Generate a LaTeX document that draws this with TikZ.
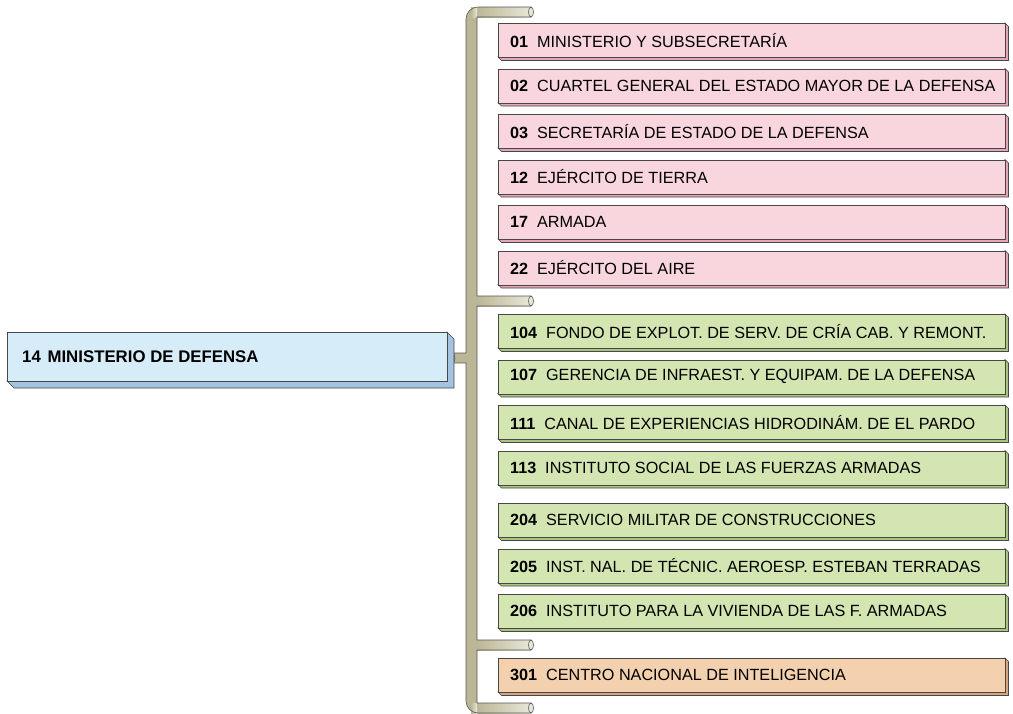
\documentclass[tikz,border=0pt]{standalone}
\usepackage{fontspec}
\setmainfont{Liberation Sans}
\begin{document}
\begin{tikzpicture}[x=1pt,y=-1pt,
  edge/.style={draw=black!72,line width=0.6pt},
  boxst/.style={edge,inner sep=0pt,rectangle},
  txt/.style={anchor=west,inner sep=0pt,font=\fontsize{16.2}{19}\selectfont},
  maintxt/.style={anchor=west,inner sep=0pt,font=\fontsize{16.8}{20}\selectfont\bfseries}]
\definecolor{pinkF}{HTML}{F9D6DE}\definecolor{pinkS}{HTML}{E2A6B5}
\definecolor{greenF}{HTML}{D3E6B2}\definecolor{greenS}{HTML}{A9C47E}
\definecolor{orangeF}{HTML}{F3D0AE}\definecolor{orangeS}{HTML}{D8A67A}
\definecolor{blueF}{HTML}{D7ECF9}\definecolor{blueS}{HTML}{A3C3E0}
\definecolor{barC}{HTML}{BBB796}\definecolor{barL}{HTML}{E9E7D8}
\definecolor{barE}{HTML}{555555}
\useasboundingbox (0,0) rectangle (1013,713);
\newcommand\ebox[8]{%
  \fill[#6S,edge] (#2+#4,#3) -- ++(#7,#7) -- ++(0,#5) -- ++(-#4,0) -- ++(-#7,-#7) -- ++(#4,0) -- cycle;
  \node[boxst,fill=#6F,minimum width=#4pt,minimum height=#5pt,anchor=north west] (#1) at (#2,#3) {};
  \node[txt] (#1-t) at ([xshift=12pt]#1.west) {#8};}
\newcommand\nm[2]{\textbf{#1}\hspace{0.55em}#2}
% bracket
\coordinate (brTop) at (531,12);
\coordinate (brA) at (531,301);
\coordinate (brB) at (531,645);
\coordinate (brBot) at (531,708);
\fill[barC] (452,353) rectangle (467,363);
\fill[barC,draw=barE,line width=0.6pt] (452,358) ellipse [x radius=3,y radius=5];
\fill[barC] (531,17) -- (531,7) [rounded corners=12pt] -- (466,7) -- (466,100) [sharp corners] -- (466,353)
  -- (466,363) [rounded corners=12pt] -- (466,600) -- (466,713) -- (500,713) [sharp corners] -- (531,713)
  -- (531,703) -- (477,703) -- (477,650) -- (531,650) -- (531,640) -- (477,640) -- (477,306) -- (531,306)
  -- (531,296) -- (477,296) -- (477,17) -- cycle;
\foreach \y in {7,296,640,703}{\shade[left color=barC,right color=barL] (477,\y) rectangle (531,\y+10);}
\shade[left color=barC,right color=barL] (471,7) rectangle (477,17);
\shade[left color=barC,right color=barL] (471,703) rectangle (477,713);
\draw[barE,line width=0.6pt] (531,17) -- (531,7) [rounded corners=12pt] -- (466,7) -- (466,100) [sharp corners] -- (466,353)
  -- (452,353);
\draw[barE,line width=0.6pt] (452,363) -- (466,363) [rounded corners=12pt] -- (466,600) -- (466,713) -- (500,713) [sharp corners] -- (531,713)
  -- (531,703) -- (477,703) -- (477,650) -- (531,650) -- (531,640) -- (477,640) -- (477,306) -- (531,306)
  -- (531,296) -- (477,296) -- (477,17) -- (531,17);
\foreach \c in {brTop,brA,brB,brBot}{\fill[barL,draw=barE,line width=0.6pt] (\c) ellipse [x radius=2.5,y radius=5];}
% main box
\ebox{main}{7}{332}{440}{49}{blue}{7}{}
\node[maintxt] (main-label) at ([xshift=15pt]main.west) {14\hspace{0.4em}MINISTERIO DE DEFENSA};
% pink
\ebox{b01}{498}{23}{507}{34}{pink}{3.5}{\nm{01}{MINISTERIO Y SUBSECRETARÍA}}
\ebox{b02}{498}{68.5}{507}{34}{pink}{3.5}{\nm{02}{CUARTEL GENERAL DEL ESTADO MAYOR DE LA DEFENSA}}
\ebox{b03}{498}{114}{507}{34}{pink}{3.5}{\nm{03}{SECRETARÍA DE ESTADO DE LA DEFENSA}}
\ebox{b12}{498}{159.5}{507}{34}{pink}{3.5}{\nm{12}{EJÉRCITO DE TIERRA}}
\ebox{b17}{498}{205}{507}{34}{pink}{3.5}{\nm{17}{ARMADA}}
\ebox{b22}{498}{250.5}{507}{34}{pink}{3.5}{\nm{22}{EJÉRCITO DEL AIRE}}
% green
\ebox{b104}{498}{314}{507}{34}{green}{3.5}{\nm{104}{FONDO DE EXPLOT. DE SERV. DE CRÍA CAB. Y REMONT.}}
\ebox{b107}{498}{359.5}{507}{34}{green}{3.5}{\nm{107}{GERENCIA DE INFRAEST. Y EQUIPAM. DE LA DEFENSA}}
\ebox{b111}{498}{405}{507}{34}{green}{3.5}{\nm{111}{CANAL DE EXPERIENCIAS HIDRODINÁM. DE EL PARDO}}
\ebox{b113}{498}{450.5}{507}{34}{green}{3.5}{\nm{113}{INSTITUTO SOCIAL DE LAS FUERZAS ARMADAS}}
\ebox{b204}{498}{503}{507}{34}{green}{3.5}{\nm{204}{SERVICIO MILITAR DE CONSTRUCCIONES}}
\ebox{b205}{498}{548.5}{507}{34}{green}{3.5}{\nm{205}{INST. NAL. DE TÉCNIC. AEROESP. ESTEBAN TERRADAS}}
\ebox{b206}{498}{594}{507}{34}{green}{3.5}{\nm{206}{INSTITUTO PARA LA VIVIENDA DE LAS F. ARMADAS}}
% orange
\ebox{b301}{498}{658}{507}{34}{orange}{3.5}{\nm{301}{CENTRO NACIONAL DE INTELIGENCIA}}
\end{tikzpicture}
\end{document}
